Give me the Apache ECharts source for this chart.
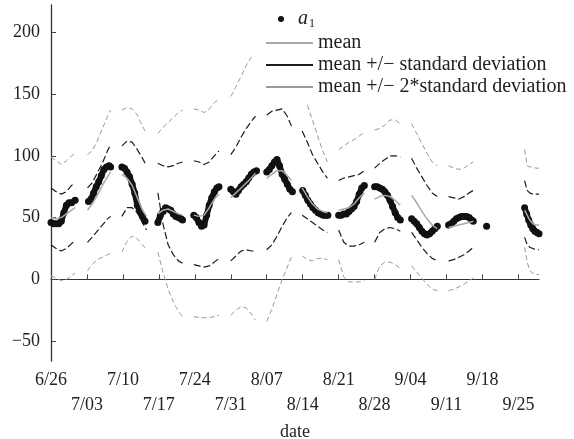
<!DOCTYPE html>
<html>
<head>
<meta charset="utf-8">
<title>a1 with mean and standard deviation bands</title>
<script src="https://cdn.jsdelivr.net/npm/echarts@6.0.0/dist/echarts.min.js"></script>
<style>
  html, body { margin: 0; padding: 0; background: #fff; }
  #chart { width: 574px; height: 439px; }
</style>
</head>
<body>
<div id="chart"></div>
<script>
// days counted from 6/26, null = gap between weekly blocks
var tickDays  = [0, 7, 14, 21, 28, 35, 42, 49, 56, 63, 70, 77, 84, 91];
var tickDates = ['6/26', '7/03', '7/10', '7/17', '7/24', '7/31', '8/07', '8/14', '8/21', '8/28', '9/04', '9/11', '9/18', '9/25'];
var yTicks = [-50, 0, 50, 100, 150, 200];

var a1Days = [
  0, 0.5, 1, 1.5, 2, 2.5, 3, 3.5, 4, 4.7, null,
  7.3, 7.8, 8.3, 8.8, 9.3, 9.8, 10.3, 10.8, 11.3, 11.6, null,
  13.8, 14.3, 14.8, 15.3, 15.8, 16.3, 16.8, 17.3, 17.8, 18.3, null,
  20.8, 21.3, 21.8, 22.3, 22.8, 23.3, 23.8, 24.3, 24.8, 25.3, 25.6, null,
  27.8, 28.3, 28.8, 29.3, 29.8, 30.3, 30.8, 31.3, 31.8, 32.3, 32.7, null,
  35, 35.5, 36, 36.5, 37, 37.5, 38, 38.5, 39, 39.5, 40, null,
  42, 42.5, 43, 43.5, 44, 44.5, 45, 45.5, 46, 46.5, 47, null,
  49, 49.5, 50, 50.5, 51, 51.5, 52, 52.5, 53, 53.5, 53.9, null,
  56, 56.5, 57, 57.5, 58, 58.5, 59, 59.5, 60, 60.5, 61, null,
  63, 63.5, 64, 64.5, 65, 65.5, 66, 66.5, 67, 67.5, 68, null,
  70.2, 70.7, 71.2, 71.7, 72.2, 72.7, 73.2, 73.7, 74.2, 74.7, 75.2, null,
  77.4, 77.9, 78.4, 78.9, 79.4, 79.9, 80.4, 80.9, 81.4, 81.9, 82.2, null,
  84.8, null,
  92.2, 92.6, 93, 93.4, 93.8, 94.2, 94.6, 95
];
var a1Vals = [
  46, 45, 45, 45, 47, 54, 60, 62, 62, 64, null,
  63, 65, 70, 75, 79, 84, 89, 91, 92, 91, null,
  91, 90, 87, 83, 77, 70, 60, 55, 51, 47, null,
  46, 52, 55, 58, 57, 56, 53, 51, 50, 49, 48, null,
  52, 50, 46, 43, 44, 52, 60, 66, 71, 74, 75, null,
  73, 71, 69, 72, 75, 77, 79, 82, 85, 87, 88, null,
  87, 89, 92, 95, 97, 92, 85, 81, 77, 73, 71, null,
  72, 68, 64, 61, 58, 56, 54, 53, 52, 52, 52, null,
  52, 52, 53, 53, 55, 57, 59, 63, 69, 74, 76, null,
  75, 75, 74, 73, 71, 68, 64, 59, 54, 50, 48, null,
  49, 47, 45, 42, 39, 37, 36, 37, 39, 41, 43, null,
  44, 45, 47, 49, 50, 51, 51, 51, 50, 48, 47, null,
  43, null,
  58, 53, 48, 44, 41, 39, 38, 37
];

var bandDays = [
  0, 1, 2, 3, 4, 4.7, null,
  7.1, 8, 9, 10, 11, 11.6, null,
  13.8, 14.8, 15.8, 16.8, 17.8, 18.6, null,
  20.8, 21.8, 22.8, 23.8, 24.8, 25.6, null,
  27.8, 28.8, 29.8, 30.8, 31.8, 32.7, null,
  35, 36, 37, 38, 39, 39.8, null,
  42, 43, 44, 45, 46, 46.8, null,
  48.9, 49.9, 50.9, 51.9, 52.9, 53.8, null,
  56, 57, 58, 59, 60, 61, null,
  63, 64, 65, 66, 67, 68, null,
  70.2, 71.2, 72.2, 73.2, 74.2, 75.2, null,
  77.4, 78.4, 79.4, 80.4, 81.4, 82.2, null,
  92.2, 92.7, 93.2, 93.8, 94.4, 95
];
var meanVals = [
  50, 49, 50, 53, 56, 58, null,
  56, 61, 68, 76, 83, 87, null,
  85, 82, 76, 66, 56, 51, null,
  53, 56, 57, 55, 53, 52, null,
  52, 51, 52, 58, 65, 69, null,
  66, 70, 74, 78, 82, 86, null,
  82, 85, 88, 88, 84, 80, null,
  74, 67, 61, 57, 55, 54, null,
  56, 57, 58, 61, 66, 70, null,
  65, 67, 68, 67, 64, 60, null,
  68, 62, 55, 49, 44, 41, null,
  42, 43, 44, 45, 46, 47, null,
  56, 52, 48, 45, 44, 44
];
var plus1Vals = [
  74, 71, 69, 71, 76, 78, null,
  74, 78, 86, 94, 104, 109, null,
  108, 112, 111, 105, 98, 92, null,
  94, 92, 91, 92, 94, 95, null,
  96, 95, 93, 95, 100, 104, null,
  101, 107, 115, 122, 128, 132, null,
  133, 136, 137, 138, 132, 124, null,
  120, 111, 101, 94, 87, 82, null,
  80, 82, 83, 84, 85, 88, null,
  90, 94, 97, 100, 100, 99, null,
  98, 90, 83, 76, 70, 67, null,
  67, 66, 65, 67, 70, 72, null,
  80, 72, 70, 69, 69, 69
];
var minus1Vals = [
  28, 25, 23, 25, 29, 31, null,
  30, 34, 39, 44, 49, 51, null,
  51, 58, 58, 54, 46, 40, null,
  70, 45, 28, 20, 15, 13, null,
  12, 11, 10, 11, 14, 17, null,
  15, 19, 23, 24, 23, 23, null,
  24, 28, 35, 43, 50, 54, null,
  52, 49, 46, 43, 40, 38, null,
  40, 30, 27, 27, 28, 30, null,
  30, 38, 41, 42, 41, 39, null,
  38, 32, 26, 21, 17, 15, null,
  15, 16, 18, 20, 23, 26, null,
  34, 28, 26, 25, 24, 24
];
var plus2Vals = [
  99, 96, 93, 96, 100, 102, null,
  101, 104, 112, 122, 132, 137, null,
  137, 139, 138, 133, 124, 118, null,
  118, 123, 127, 131, 135, 137, null,
  138, 137, 135, 138, 143, 146, null,
  148, 156, 164, 173, 180, null, null,
  null, null, null, null, null, null, null,
  null, 141, 129, 116, 104, 95, null,
  105, 108, 111, 113, 116, 119, null,
  121, 122, 125, 129, 129, 126, null,
  126, 118, 110, 102, 95, 92, null,
  92, 90, 89, 90, 93, 95, null,
  105, 92, 91, 91, 90, 90
];
var minus2Vals = [
  3, 1, -1, 0, 3, 5, null,
  7, 12, 16, 18, 20, 21, null,
  22, 31, 35, 33, 28, 24, null,
  22, 6, -8, -18, -26, -30, null,
  -30, -31, -31, -31, -30, -29, null,
  -29, -25, -22, -23, -28, -33, null,
  -34, -24, -12, 0, 10, 18, null,
  19, 16, 15, 17, 17, 16, null,
  16, 2, -2, -2, -2, -1, null,
  0, 11, 14, 14, 12, 9, null,
  11, 6, 1, -4, -8, -9, null,
  -9, -8, -6, -4, -1, 1, null,
  26, 14, 7, 5, 4, 4
];

function pairs(days, vals) {
  return days.map(function (d, i) {
    if (d === null || vals[i] === null) return [d === null ? '-' : d, '-'];
    return [d, vals[i]];
  });
}

var SERIF = 'Liberation Serif';
var NAME_SD = 'mean +/\u2212 standard deviation';
var NAME_2SD = 'mean +/\u2212 2*standard deviation';
var BLACK = '#1c1c1c';
var GREY = '#9a9a9a';
var MEAN_GREY = '#a8a8a8';

var chart = echarts.init(document.getElementById('chart'), null, { renderer: 'canvas' });

function band(name, vals, color, width, dash) {
  return {
    name: name,
    type: 'line',
    data: pairs(bandDays, vals),
    showSymbol: false,
    symbol: 'none',
    color: color,
    itemStyle: { color: color },
    lineStyle: { color: color, width: width, type: dash },
    connectNulls: false,
    z: 2
  };
}

var option = {
  animation: false,
  backgroundColor: '#fff',
  grid: { left: 51, right: 35, top: 5, bottom: 78, outerBoundsMode: 'none' },
  legend: [
    {
      data: [{ name: 'a1', icon: 'circle' }],
      left: 278, top: 9, padding: 0,
      itemWidth: 24, itemHeight: 6,
      selectedMode: false,
      formatter: function () { return '{i|a}{s|1}'; },
      textStyle: {
        color: '#222',
        rich: {
          i: { fontFamily: SERIF, fontStyle: 'italic', fontSize: 20, color: '#222' },
          s: { fontFamily: SERIF, fontSize: 12, color: '#222', padding: [9, 0, 0, 1] }
        }
      }
    },
    {
      data: ['mean', NAME_SD, NAME_2SD],
      orient: 'vertical',
      left: 266, top: 33, padding: 0,
      itemWidth: 47, itemHeight: 2, itemGap: 2,
      icon: 'rect',
      selectedMode: false,
      textStyle: { fontFamily: SERIF, fontSize: 20, color: '#222', lineHeight: 18 }
    }
  ],
  xAxis: {
    type: 'value',
    min: 0, max: 95,
    name: 'date',
    nameLocation: 'middle',
    nameGap: 57,
    nameTextStyle: { fontFamily: SERIF, fontSize: 18, color: '#222' },
    axisLine: { show: true, lineStyle: { color: '#333', width: 1 } },
    axisTick: { show: true, inside: true, length: 5, customValues: tickDays, lineStyle: { color: '#444' } },
    splitLine: { show: false },
    axisLabel: {
      customValues: tickDays,
      margin: 7,
      fontFamily: SERIF, fontSize: 18, color: '#222', lineHeight: 25,
      formatter: function (v) {
        var i = tickDays.indexOf(v);
        return i % 2 ? '\n' + tickDates[i] : tickDates[i];
      }
    }
  },
  yAxis: {
    type: 'value',
    min: -66, max: 222,
    axisLine: { show: true, lineStyle: { color: '#333', width: 1.3 } },
    axisTick: { show: true, inside: true, length: 5, customValues: yTicks, lineStyle: { color: '#444' } },
    splitLine: { show: false },
    axisLabel: {
      customValues: yTicks,
      margin: 11,
      fontFamily: SERIF, fontSize: 18, color: '#222',
      formatter: function (v) { return v < 0 ? '\u2212' + Math.abs(v) : String(v); }
    }
  },
  series: [
    band(NAME_2SD, plus2Vals, GREY, 1, [5, 3]),
    band(NAME_2SD, minus2Vals, GREY, 1, [5, 3]),
    band(NAME_SD, plus1Vals, BLACK, 1.2, [7, 3]),
    band(NAME_SD, minus1Vals, BLACK, 1.2, [7, 3]),
    {
      name: 'a1',
      type: 'line',
      data: pairs(a1Days, a1Vals),
      symbol: 'circle',
      symbolSize: 7,
      showSymbol: true,
      showAllSymbol: true,
      color: '#111',
      itemStyle: { color: '#111' },
      lineStyle: { color: '#111', width: 6 },
      connectNulls: false,
      z: 3
    },
    {
      name: 'mean',
      type: 'line',
      data: pairs(bandDays, meanVals),
      showSymbol: false,
      symbol: 'none',
      color: MEAN_GREY,
      itemStyle: { color: MEAN_GREY },
      lineStyle: { color: MEAN_GREY, width: 1.5 },
      connectNulls: false,
      z: 4
    }
  ]
};

chart.setOption(option);
</script>
</body>
</html>
